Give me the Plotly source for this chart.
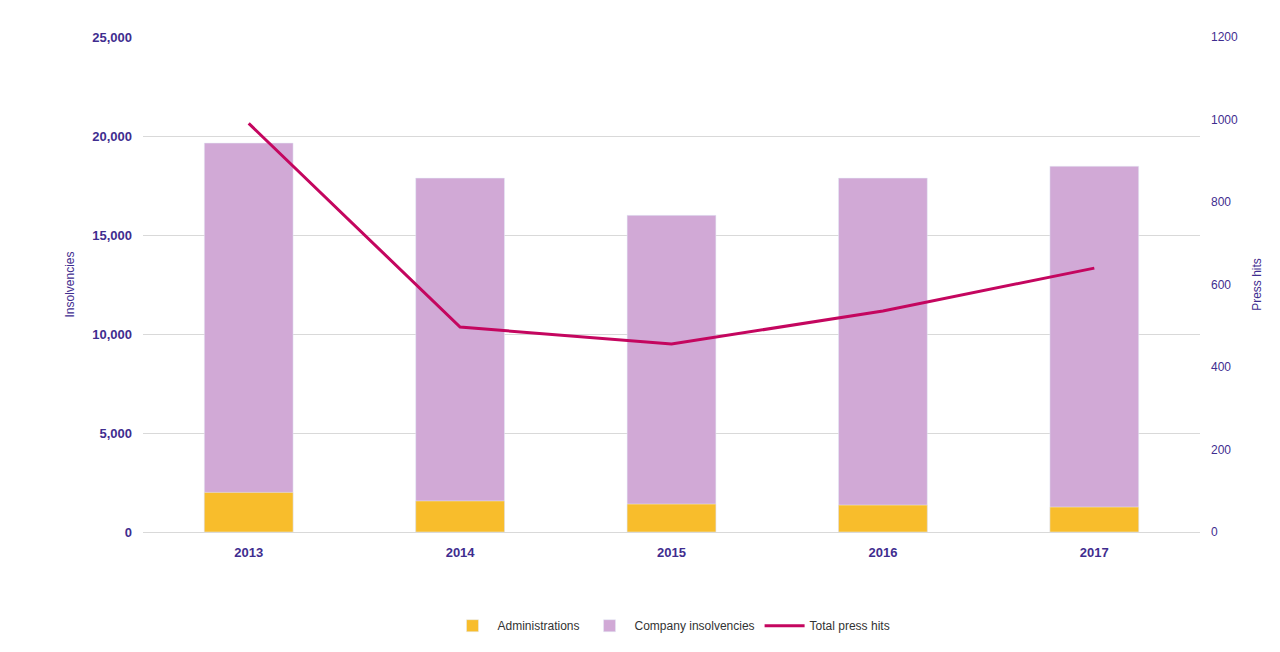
import plotly.graph_objects as go

years = ["2013", "2014", "2015", "2016", "2017"]
administrations = [2000, 1570, 1410, 1360, 1260]
company_insolvencies = [19650, 17880, 16000, 17880, 18480]
press_hits = [991, 497, 456, 536, 640]

purple = "#3f2d8f"
fig = go.Figure()
fig.add_trace(go.Bar(x=years, y=company_insolvencies, name="Company insolvencies",
                     marker_color="#d1a9d6", width=0.42))
fig.add_trace(go.Bar(x=years, y=administrations, name="Administrations",
                     marker_color="#f8bd2c", width=0.42))
fig.add_trace(go.Scatter(x=years, y=press_hits, name="Total press hits", mode="lines",
                         line=dict(color="#c4065f", width=3), yaxis="y2"))

fig.update_layout(
    width=1280, height=652, barmode="overlay",
    plot_bgcolor="white", paper_bgcolor="white",
    font=dict(family="Liberation Sans, Arial", color=purple, size=12),
    margin=dict(l=135, r=88, t=29, b=128),
    xaxis=dict(tickfont=dict(size=13, color=purple, weight="bold"), ticklabelstandoff=8,
               showline=True, linecolor="#d9d9d9"),
    yaxis=dict(title=dict(text="Insolvencies", font=dict(size=12)), range=[0, 25010], dtick=5000,
               tickformat=",", gridcolor="#d9d9d9", tickfont=dict(size=13, color=purple, weight="bold"),
               ticklabelstandoff=10),
    yaxis2=dict(title=dict(text="Press hits", font=dict(size=12)), range=[0, 1200.5], dtick=200,
                overlaying="y", side="right", showgrid=False,
                tickfont=dict(size=12, color=purple), ticklabelstandoff=10),
    legend=dict(orientation="h", x=0.5, xanchor="center", y=-0.16, yanchor="top",
                traceorder="normal", font=dict(size=12, color="#333"),
                itemwidth=40),
)
fig.data[0].legendrank = 2
fig.data[1].legendrank = 1
fig.data[2].legendrank = 3
fig.write_html("out.html")
